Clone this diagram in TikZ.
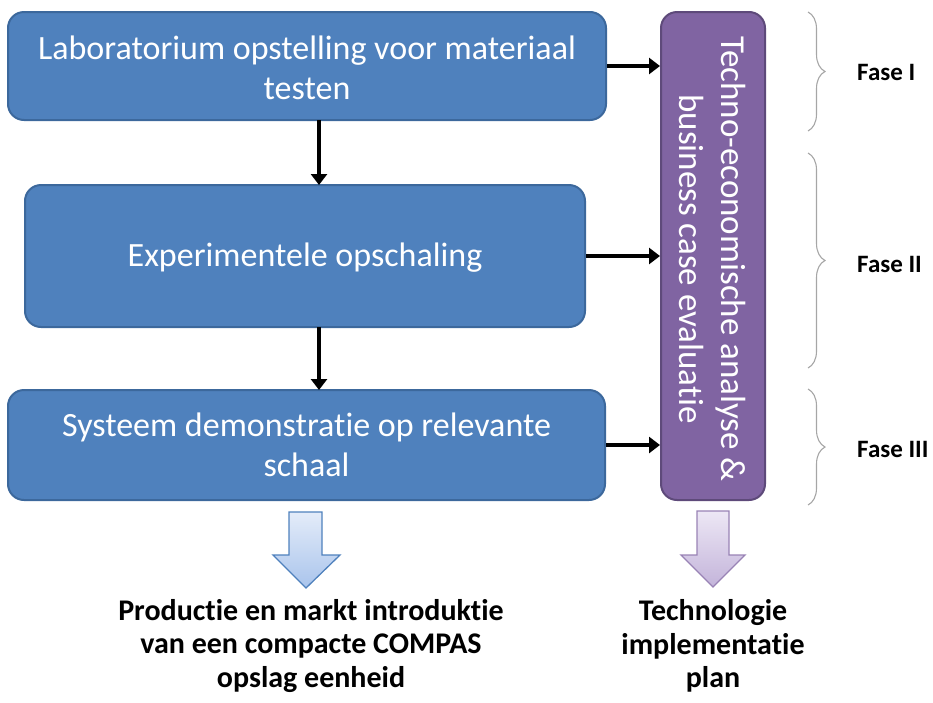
\documentclass[tikz,border=0pt]{standalone}
\usepackage{fontspec}
\setmainfont{Carlito}[RawFeature={-liga;-clig;-calt;-dlig}]
\usetikzlibrary{arrows.meta,decorations.pathreplacing}
\definecolor{bluefill}{HTML}{4F81BD}
\definecolor{bluedraw}{HTML}{3C689C}
\definecolor{purfill}{HTML}{8064A2}
\definecolor{purdraw}{HTML}{5E4A7A}
\definecolor{bracegray}{HTML}{A6A6A6}
\definecolor{ltblueTop}{HTML}{E4ECF9}
\definecolor{ltblueBot}{HTML}{A9C4EC}
\definecolor{ltpurTop}{HTML}{EDE7F5}
\definecolor{ltpurBot}{HTML}{C3B4DA}
\newcommand{\tI}{t\kern0pt i}
\tikzset{
  stepbox/.style={draw=bluedraw, line width=2pt, fill=bluefill, rounded corners=16pt,
    text=white, align=center, font=\fontsize{34}{40}\selectfont, inner sep=0pt},
  boxtext/.style={text=white, align=center, font=\fontsize{34}{40}\selectfont, inner sep=0pt},
  evalbox/.style={draw=purdraw, line width=2pt, fill=purfill, rounded corners=16pt, inner sep=0pt},
  flow/.style={line width=3.5pt, -{Triangle[length=11pt,width=16pt]}},
  fasebrace/.style={draw=bracegray, line width=1.1pt, decorate,
    decoration={brace, amplitude=17pt, aspect=0.5}},
  faselabel/.style={anchor=west, font=\bfseries\fontsize{25}{28}\selectfont, inner sep=0pt},
  outtext/.style={align=center, font=\bfseries\fontsize{30}{33.5}\selectfont, inner sep=0pt}
}
\begin{document}
\begin{tikzpicture}[x=1pt,y=-1pt]
\useasboundingbox (0,0) rectangle (933,702);
% main boxes
\node[stepbox, minimum width=598pt, minimum height=108pt] (lab) at (307,66) {};
\node[boxtext] (labt) at (307,68) {Laboratorium opstelling voor materiaal\\testen};
\node[stepbox, minimum width=560pt, minimum height=142pt] (exp) at (305,256) {};
\node[boxtext] (expt) at (305,258) {Experimentele opschaling};
\node[stepbox, minimum width=597pt, minimum height=110pt] (sys) at (306.5,445) {};
\node[boxtext] (syst) at (306.5,445) {Systeem demonstra\tI e op relevante\\schaal};
% evaluation box
\node[evalbox, minimum width=104pt, minimum height=488pt] (eval) at (713,256) {};
\node[rotate=-90, text=white, align=center, font=\fontsize{35}{42}\selectfont, inner sep=0pt] (evalt) at (713,259) {Techno-economische analyse \&\\business case evalua\tI e};
% connectors
\coordinate (e1) at (eval.west |- lab.east);
\coordinate (e2) at (eval.west |- exp.east);
\coordinate (e3) at (eval.west |- sys.east);
\draw[flow] (lab.east) -- (e1);
\draw[flow] (exp.east) -- (e2);
\draw[flow] (sys.east) -- (e3);
\coordinate (lb) at (319,120);
\coordinate (et) at (319,185);
\coordinate (eb) at (319,327);
\coordinate (st) at (319,390);
\draw[flow] (lb) -- (et);
\draw[flow] (eb) -- (st);
% braces
\coordinate (b1t) at (808,12);  \coordinate (b1b) at (808,131);
\coordinate (b2t) at (808,153); \coordinate (b2b) at (808,368);
\coordinate (b3t) at (808,389); \coordinate (b3b) at (808,505);
\draw[fasebrace] (b1t) -- (b1b);
\draw[fasebrace] (b2t) -- (b2b);
\draw[fasebrace] (b3t) -- (b3b);
\node[faselabel] (f1) at (857,72) {Fase I};
\node[faselabel] (f2) at (857,264) {Fase II};
\node[faselabel] (f3) at (857,449) {Fase III};
% block arrows
\draw[draw=bluefill, line width=1.3pt, top color=ltblueTop, bottom color=ltblueBot]
  (289,512) -- (322,512) -- (322,555) -- (340,555) -- (306,588) -- (273,555) -- (289,555) -- cycle;
\draw[draw=purfill!80, line width=1.3pt, top color=ltpurTop, bottom color=ltpurBot]
  (697,511) -- (729,511) -- (729,555) -- (745,555) -- (713,587) -- (681,555) -- (697,555) -- cycle;
% outputs
\node[outtext] (prod) at (311,646) {Produc\tI e en markt introduk\tI e\\van een compacte COMPAS\\opslag eenheid};
\node[outtext] (tech) at (713,646) {Technologie\\implementa\tI e\\plan};
\end{tikzpicture}
\end{document}
